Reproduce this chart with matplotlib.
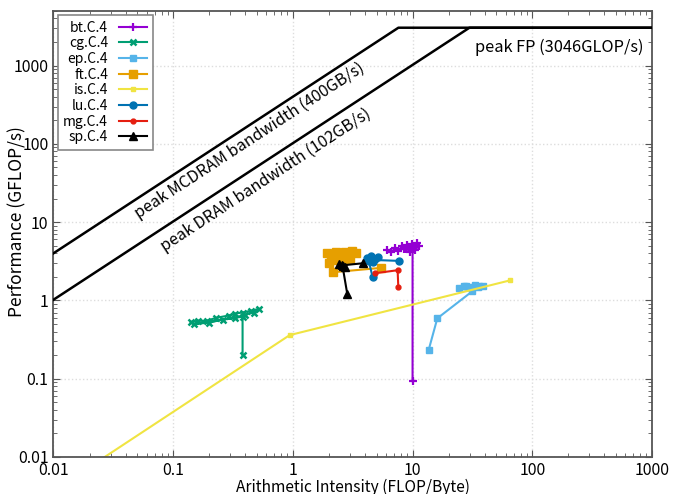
import numpy as np
import matplotlib
matplotlib.use('Agg')
import matplotlib.pyplot as plt

plt.rcParams['font.family'] = ['Noto Sans CJK KR', 'DejaVu Sans']

# 루프라인 상한값
peak_fp = 3046
bw_mcdram = 400
bw_dram = 102

# 측정값 (x: FLOP/Byte, y: GFLOP/s)
bt_x = [6.1, 6.6, 7.2, 7.6, 8.1, 8.5, 9.0, 9.4, 9.9, 10.4, 10.9, 11.3, 10.5, 9.6, 8.8, 10.0, 10.0]
bt_y = [4.4, 4.1, 4.7, 4.3, 4.9, 4.5, 5.1, 4.6, 5.3, 4.9, 5.4, 5.0, 4.4, 4.2, 4.6, 4.8, 0.093]

cg_x = [0.14, 0.16, 0.19, 0.23, 0.29, 0.33, 0.38, 0.45, 0.52, 0.47, 0.40, 0.33, 0.26, 0.20, 0.15, 0.38, 0.38]
cg_y = [0.53, 0.55, 0.55, 0.60, 0.64, 0.68, 0.70, 0.74, 0.78, 0.70, 0.66, 0.60, 0.57, 0.52, 0.50, 0.62, 0.20]

ep_x = [13.6, 16.1, 31.6, 24.5, 27.0, 30.0, 33.0, 36.0, 39.0, 35.0, 28.0]
ep_y = [0.23, 0.59, 1.31, 1.45, 1.55, 1.50, 1.57, 1.52, 1.55, 1.48, 1.52]

ft_x = [1.92, 2.1, 2.3, 2.5, 2.7, 2.9, 3.1, 3.35, 3.0, 2.6, 2.2, 2.0, 2.15, 5.4]
ft_y = [4.0, 3.6, 4.1, 3.5, 4.2, 3.8, 4.3, 4.0, 3.4, 3.2, 3.3, 3.0, 2.29, 2.6]

is_x = [0.01, 0.94, 65.0]
is_y = [0.0037, 0.36, 1.8]

lu_x = [4.64, 4.3, 4.15, 4.5, 4.9, 5.1, 4.7, 4.4, 7.64]
lu_y = [1.98, 3.2, 3.5, 3.7, 3.4, 3.6, 3.1, 3.3, 3.2]

mg_x = [4.82, 7.5, 7.6]
mg_y = [2.22, 2.43, 1.5]

sp_x = [2.85, 2.6, 2.45, 2.7, 2.55, 3.83]
sp_y = [1.2, 2.75, 2.9, 2.65, 2.8, 2.98]

fig = plt.figure(figsize=(6.77, 4.94), dpi=100)
ax = fig.add_subplot(111)
fig.subplots_adjust(left=0.079, right=0.963, bottom=0.075, top=0.978)
ax.set_xscale('log')
ax.set_yscale('log')
ax.set_xlim(0.01, 1000)
ax.set_ylim(0.01, 5000)

# 루프라인
for bw in [bw_mcdram, bw_dram]:
    rx = np.array([0.01, peak_fp / bw, 1000])
    ax.plot(rx, np.minimum(bw * rx, peak_fp), color='black', lw=1.8, zorder=3)

ax.plot(bt_x, bt_y, color='#9400D3', marker='+', ms=6, mew=1.6, lw=1.5, label='bt.C.4')
ax.plot(cg_x, cg_y, color='#009E73', marker='x', ms=5, mew=1.8, lw=1.5, label='cg.C.4')
ax.plot(ep_x, ep_y, color='#56B4E9', marker='s', ms=4.5, lw=1.5, label='ep.C.4')
ax.plot(ft_x, ft_y, color='#E69F00', marker='s', ms=5.5, lw=1.5, label='ft.C.4')
ax.plot(is_x, is_y, color='#F0E442', marker='s', ms=3.5, lw=1.5, label='is.C.4')
ax.plot(lu_x, lu_y, color='#0072B2', marker='o', ms=5, lw=1.5, label='lu.C.4')
ax.plot(mg_x, mg_y, color='#E51E10', marker='o', ms=3.5, lw=1.5, label='mg.C.4')
ax.plot(sp_x, sp_y, color='black', marker='^', ms=6, lw=1.5, label='sp.C.4')

# 기울어진 글씨
def slope_text(bw, xc, txt, off):
    p1 = ax.transData.transform((0.01, bw * 0.01))
    p2 = ax.transData.transform((1.0, bw * 1.0))
    ang = np.degrees(np.arctan2(p2[1] - p1[1], p2[0] - p1[0]))
    a = np.radians(ang)
    dx, dy = off * np.sin(a) * 0.72, -off * np.cos(a) * 0.72
    ax.annotate(txt, (xc, bw * xc), xytext=(dx, dy), textcoords='offset points',
                rotation=ang, rotation_mode='anchor', ha='center', va='center', fontsize=11.6)

slope_text(bw_mcdram, 0.38, 'peak MCDRAM bandwidth (400GB/s)', 13)
slope_text(bw_dram, 0.50, 'peak DRAM bandwidth (102GB/s)', 16)
ax.text(33, 1700, 'peak FP (3046GLOP/s)', ha='left', va='center', fontsize=11.8)

ax.grid(True, which='major', color='#dddddd', linestyle=':', lw=1)
ax.tick_params(which='both', direction='in', top=True, right=True, labelsize=11.5, color='#555555')
ax.tick_params(which='major', length=5)
ax.tick_params(which='minor', length=3)
for s in ax.spines.values():
    s.set_color('#555555')
    s.set_linewidth(1.3)
ax.set_xticks([0.01, 0.1, 1, 10, 100, 1000])
ax.set_xticklabels(['0.01', '0.1', '1', '10', '100', '1000'])
ax.set_yticks([0.01, 0.1, 1, 10, 100, 1000])
ax.set_yticklabels(['0.01', '0.1', '1', '10', '100', '1000'])
ax.set_xlabel('Arithmetic Intensity (FLOP/Byte)', fontsize=11.2)
ax.set_ylabel('Performance (GFLOP/s)', fontsize=12.5)
ax.xaxis.set_label_coords(0.5, -0.05)
ax.yaxis.set_label_coords(-0.045, 0.527)

leg = ax.legend(loc='upper left', markerfirst=False, fancybox=False, edgecolor='#888888',
                fontsize=10, handlelength=2.0, borderaxespad=0.3, labelspacing=0.12,
                framealpha=1)
leg.get_frame().set_linewidth(1.2)

fig.savefig('out.png', dpi=100)
